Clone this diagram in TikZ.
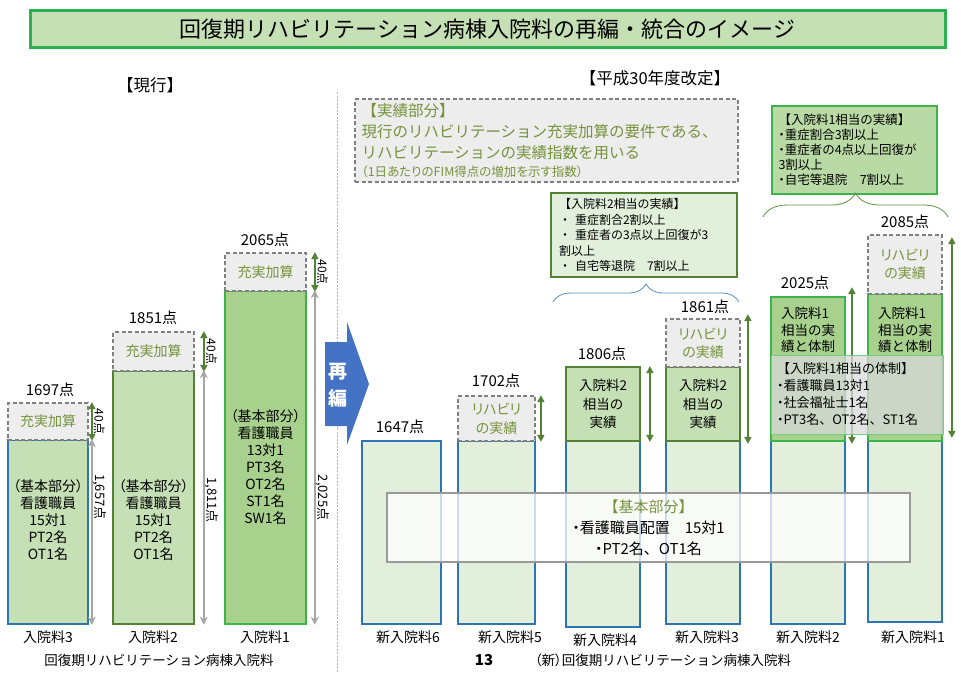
\documentclass[tikz,border=0pt]{standalone}
\usepackage{fontspec}
\setmainfont{Noto Sans CJK JP}
\newfontfamily\jpp{Noto Sans CJK JP}[RawFeature=+palt]
\usetikzlibrary{arrows.meta,decorations.pathreplacing}

\definecolor{titlefill}{HTML}{C5E0B4}
\definecolor{titleline}{HTML}{2DB04F}
\definecolor{cblue}{HTML}{2E75B6}
\definecolor{colive}{HTML}{538135}
\definecolor{cgreen}{HTML}{3CB44B}
\definecolor{lgreen}{HTML}{C5E0B4}
\definecolor{mgreen}{HTML}{A9D18E}
\definecolor{pgreen}{HTML}{E2EFDA}
\definecolor{oltext}{HTML}{76923C}
\definecolor{darrow}{HTML}{548235}
\definecolor{garrowc}{HTML}{A6A6A6}
\definecolor{dashgray}{HTML}{808080}
\definecolor{lgray}{HTML}{EDEDED}
\definecolor{renblue}{HTML}{4472C4}

\newcommand{\fstitle}{\fontsize{22}{26}\selectfont}
\newcommand{\fshead}{\fontsize{16.5}{20}\selectfont}
\newcommand{\fspt}{\fontsize{15}{18}\selectfont}
\newcommand{\fsbar}{\fontsize{14}{17}\selectfont}
\newcommand{\fsnum}{\fontsize{13}{15}\selectfont}
\newcommand{\fssmall}{\fontsize{12}{14}\selectfont}
\newcommand{\fsnote}{\fontsize{12}{15.5}\selectfont}
\newcommand{\nakaten}{{\jpp ・}}

\begin{document}
\begin{tikzpicture}[x=1pt,y=-1pt]
    \tikzset{basebox/.style = {draw=cblue, fill=lgreen, line width=1.5pt, inner sep=0pt}}
    \tikzset{newbase/.style = {draw=cblue, fill=pgreen, line width=1.5pt, inner sep=0pt}}
    \tikzset{kasanbox/.style = {draw=dashgray, fill=lgray, line width=1.8pt, dash pattern=on 4pt off 2.5pt,
        inner sep=0pt, text=oltext, align=center, font=\fsbar}}
    \tikzset{jtwobox/.style = {draw=colive, fill=lgreen, line width=1.8pt, inner sep=0pt, align=center,
        font=\fontsize{13.5}{18.5}\selectfont}}
    \tikzset{jonebox/.style = {draw=cgreen, fill=mgreen, line width=1.8pt, inner sep=0pt}}
    \tikzset{gnarrow/.style = {draw=darrow, line width=1.8pt, {Triangle[length=7pt,width=7pt]}-{Triangle[length=7pt,width=7pt]}}}
    \tikzset{gyarrow/.style = {draw=garrowc, line width=1.5pt, {Stealth[length=8pt,width=8pt]}-{Stealth[length=8pt,width=8pt]}}}
    \tikzset{sidelabel/.style = {anchor=south, rotate=-90, inner sep=1pt}}
    \useasboundingbox (0,0) rectangle (961,672);
    % title
    \node[draw=titleline, fill=titlefill, line width=3pt, minimum width=915pt, minimum height=37pt,
        font=\fstitle] (title) at (487.5,29) {回復期リハビリテーション病棟入院料の再編・統合のイメージ};
    \node[font=\fshead] (genko) at (150,85) {【現行】};
    \node[font=\fshead] (kaitei) at (655,78) {【平成30年度改定】};
    % divider
    \draw[draw=gray!60, line width=0.6pt, dash pattern=on 2pt off 1.5pt] (337,92) -- (337,672);
    % current fees
    \node[basebox, minimum width=80pt, minimum height=184pt] (b3) at (48,532) {};
    \node[basebox, draw=colive, minimum width=81pt, minimum height=253pt] (b2) at (153.5,497.5) {};
    \node[basebox, draw=cgreen, fill=mgreen, minimum width=81pt, minimum height=333pt] (b1) at (265.5,457.5) {};
    \node[kasanbox, minimum width=80pt, minimum height=37pt] (d3) at (48,421.5) {充実加算};
    \node[kasanbox, minimum width=81pt, minimum height=39pt] (d2) at (153.5,351.5) {充実加算};
    \node[kasanbox, minimum width=81pt, minimum height=38pt] (d1) at (265.5,272) {充実加算};
    \node[font=\fsbar, align=center] (t3) at (48,520) {{\jpp （基本部分）}\\看護職員\\15対1\\PT2名\\OT1名};
    \node[font=\fsbar, align=center] (t2) at (153.5,520) {{\jpp （基本部分）}\\看護職員\\15対1\\PT2名\\OT1名};
    \node[font=\fsbar, align=center] (t1) at (265.5,467) {{\jpp （基本部分）}\\看護職員\\13対1\\PT3名\\OT2名\\ST1名\\SW1名};
    \node[font=\fspt] (p3) at (50,390) {1697点};
    \node[font=\fspt] (p2) at (153,318) {1851点};
    \node[font=\fspt] (p1) at (265,240) {2065点};
    % point arrows
    \draw[gnarrow] ([xshift=3pt]d3.north east) -- ([xshift=3pt]d3.south east) node[midway, sidelabel, font=\fssmall] {40点};
    \draw[gnarrow] ([xshift=9pt]d2.north east) -- ([xshift=9pt]d2.south east) node[midway, sidelabel, font=\fssmall] {40点};
    \draw[gnarrow] ([xshift=8pt]d1.north east) -- ([xshift=8pt]d1.south east) node[midway, sidelabel, font=\fssmall] {40点};
    \draw[gyarrow] ([xshift=3pt]b3.north east) -- ([xshift=3pt]b3.south east) node[pos=0.31, sidelabel, font=\fsnum] {1,657点};
    \draw[gyarrow] ([xshift=9pt]b2.north east) -- ([xshift=9pt]b2.south east) node[pos=0.51, sidelabel, font=\fsnum] {1,811点};
    \draw[gyarrow] ([xshift=8pt]b1.north east) -- ([xshift=8pt]b1.south east) node[pos=0.62, sidelabel, font=\fsnum] {2,025点};
    \node[font=\fsbar] (l3) at (48,637) {入院料3};
    \node[font=\fsbar] (l2) at (153,637) {入院料2};
    \node[font=\fsbar] (l1) at (265,637) {入院料1};
    \node[font=\fontsize{13.5}{16}\selectfont] (lcap) at (159,660) {回復期リハビリテーション病棟入院料};
    % saihen arrow
    \fill[renblue] (325,342) -- (347,342) -- (347,322) -- (369,384) -- (347,445) -- (347,426) -- (325,426) -- cycle;
    \node[text=white, font=\fontsize{19}{22}\selectfont\bfseries] (sai) at (338,372) {再};
    \node[text=white, font=\fontsize{19}{22}\selectfont\bfseries] (hen) at (338,398) {編};
    % new fees
    \node[newbase, minimum width=79pt, minimum height=183pt] (n6) at (401.5,532.5) {};
    \node[newbase, minimum width=77pt, minimum height=183pt] (n5) at (496.5,532.5) {};
    \node[newbase, minimum width=74pt, minimum height=186pt] (n4) at (603,534) {};
    \node[newbase, minimum width=74pt, minimum height=183pt] (n3) at (703,532.5) {};
    \node[newbase, minimum width=74pt, minimum height=183pt] (n2) at (808,532.5) {};
    \node[newbase, minimum width=74pt, minimum height=181pt] (n1) at (905,531.5) {};
    \node[kasanbox, minimum width=77pt, minimum height=45pt, font=\jpp\fontsize{14}{19}\selectfont] (r5) at (496.5,418.5) {リハビリ\\の実績};
    \node[jtwobox, minimum width=74pt, minimum height=74pt] (s4) at (603,404) {入院料2\\相当の\\実績};
    \node[jtwobox, minimum width=74pt, minimum height=74pt] (s3) at (703,404) {入院料2\\相当の\\実績};
    \node[kasanbox, minimum width=74pt, minimum height=48pt, font=\jpp\fontsize{14}{18}\selectfont] (r3) at (703,343) {リハビリ\\の実績};
    \node[jonebox, minimum width=74pt, minimum height=144pt] (s2) at (808,369) {};
    \node[jonebox, minimum width=74pt, minimum height=147pt] (s1) at (905,367.5) {};
    \node[kasanbox, minimum width=74pt, minimum height=59pt, font=\jpp\fontsize{14}{18}\selectfont] (r1) at (905,264.5) {リハビリ\\の実績};
    \node[align=left, font=\fontsize{13.5}{16.5}\selectfont] (ts2) at (808,330) {入院料1\\相当の実\\績と体制};
    \node[align=left, font=\fontsize{13.5}{16.5}\selectfont] (ts1) at (905,330) {入院料1\\相当の実\\績と体制};
    \node[font=\fspt] (q6) at (400,427) {1647点};
    \node[font=\fspt] (q5) at (496,381) {1702点};
    \node[font=\fspt] (q4) at (602,354) {1806点};
    \node[font=\fspt] (q3) at (705,307) {1861点};
    \node[font=\fspt] (q2) at (805,283) {2025点};
    \node[font=\fspt] (q1) at (905,222) {2085点};
    \draw[gnarrow] ([xshift=5pt]r5.north east) -- ([xshift=5pt]r5.south east);
    \draw[gnarrow] ([xshift=9pt]s4.north east) -- ([xshift=9pt]s4.south east);
    \draw[gnarrow] ([xshift=7pt,yshift=4pt]r3.north east) -- ([xshift=7pt,yshift=-2pt]s3.south east);
    \draw[gnarrow] ([xshift=6pt,yshift=9pt]s2.north east) -- ([xshift=6pt,yshift=-2pt]s2.south east);
    \draw[gnarrow] ([xshift=9pt,yshift=-3pt]r1.north east) -- ([xshift=9pt,yshift=4pt]s1.south east);
    % overlays
    \node[draw=cgreen!70, line width=1pt, fill=gray!30, fill opacity=0.75, text opacity=1, minimum width=172pt,
        minimum height=79pt, text width=160pt, align=left, inner sep=6pt, font=\fontsize{13}{17}\selectfont]
        (taisei) at (857,394.5) {【入院料1相当の体制】\\\nakaten 看護職員13対1\\\nakaten 社会福祉士1名\\\nakaten PT3名、OT2名、ST1名};
    \node[draw=gray!80, line width=1.3pt, fill=white, fill opacity=0.75, text opacity=1, minimum width=523pt,
        minimum height=69pt, align=center, font=\fontsize{15}{21}\selectfont]
        (kihon) at (648.5,527.5) {{\color{oltext}【基本部分】}\\\nakaten 看護職員配置　15対1\\\nakaten PT2名、OT1名};
    % jisseki notes
    \node[draw=dashgray, fill=lgray, line width=1.8pt, dash pattern=on 4pt off 2.5pt, minimum width=383pt,
        minimum height=83pt, text width=370pt, align=left, text=oltext, font=\fontsize{15.5}{21}\selectfont]
        (jisseki) at (546.5,140.5) {【実績部分】\\現行のリハビリテーション充実加算の要件である、\\リハビリテーションの実績指数を用いる\\[-3pt]
        {\jpp\fontsize{12.5}{14}\selectfont （1日あたりのFIM得点の増加を示す指数）}};
    \node[draw=colive, fill=pgreen, line width=1.5pt, minimum width=186pt, minimum height=84pt, text width=170pt,
        align=left, font=\fsnote] (two) at (644,235)
        {【入院料2相当の実績】\\・ 重症割合2割以上\\・ 重症者の3点以上回復が3\\割以上\\・ 自宅等退院　7割以上};
    \node[draw=cgreen, fill=mgreen!80!white, line width=1.8pt, minimum width=165pt, minimum height=88pt,
        text width=152pt, align=left, font=\fontsize{12.5}{15}\selectfont] (one) at (854.5,150)
        {【入院料1相当の実績】\\\nakaten 重症割合3割以上\\\nakaten 重症者の4点以上回復が\\3割以上\\\nakaten 自宅等退院　7割以上};
    % braces
    \draw[cblue!80, line width=0.8pt, decorate, decoration={brace, amplitude=18pt}] (553,302) -- (739,302);
    \draw[darrow!90, line width=0.8pt, decorate, decoration={brace, amplitude=24pt}] (763,217) -- (948,217);
    % bottom labels
    \node[font=\fsbar] (m6) at (408,637) {新入院料6};
    \node[font=\fsbar] (m5) at (510,637) {新入院料5};
    \node[font=\fsbar] (m4) at (605,640) {新入院料4};
    \node[font=\fsbar] (m3) at (707,637) {新入院料3};
    \node[font=\fsbar] (m2) at (808,637) {新入院料2};
    \node[font=\fsbar] (m1) at (913,637) {新入院料1};
    \node[font=\fontsize{15}{18}\selectfont\bfseries] (page) at (484,660) {13};
    \node[font=\fontsize{13.5}{16}\selectfont] (rcap) at (663,660) {{\jpp （新）}回復期リハビリテーション病棟入院料};
\end{tikzpicture}
\end{document}
